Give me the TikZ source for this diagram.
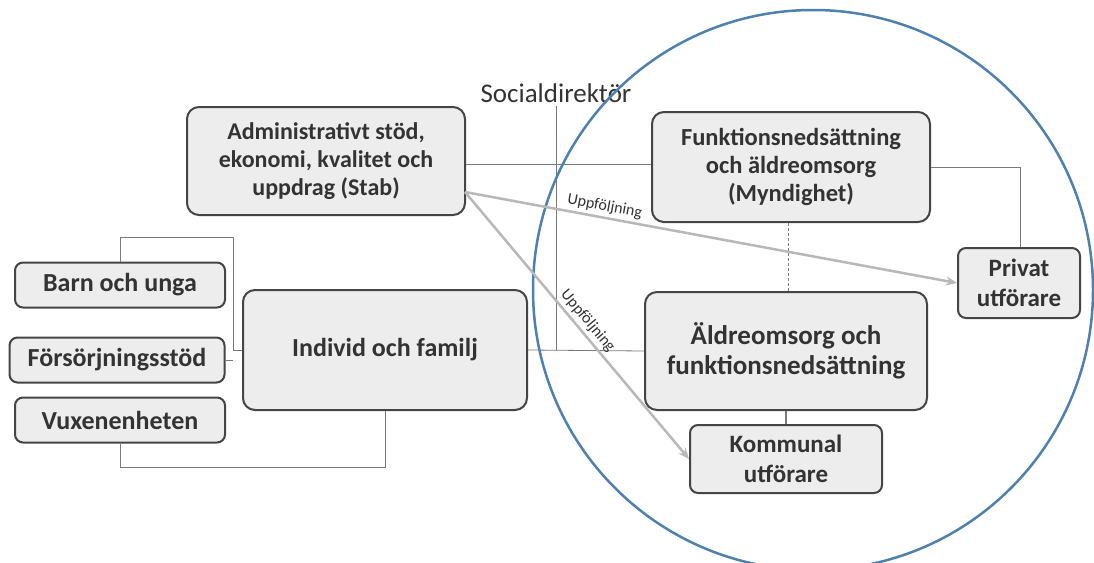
\documentclass[tikz,border=0pt]{standalone}
\usepackage{fontspec}
\setmainfont{Carlito}
\usetikzlibrary{arrows.meta,calc}
\definecolor{boxfill}{HTML}{EDEDED}
\definecolor{boxline}{HTML}{454545}
\definecolor{textcol}{HTML}{333333}
\definecolor{connline}{HTML}{7A7A7A}
\definecolor{arrowcol}{HTML}{B8B8B8}
\definecolor{circcol}{HTML}{4F81B0}
\newcommand{\fsz}[2]{\fontsize{#1}{#2}\selectfont\bfseries}
\begin{document}
\begin{tikzpicture}[x=1pt,y=-1pt,
  box/.style={draw=boxline, fill=boxfill, rounded corners=12pt, line width=2pt,
    align=center, text=textcol, inner sep=2pt},
  smallbox/.style={box, rounded corners=8pt},
  conn/.style={draw=connline, line width=0.8pt},
  follow/.style={draw=arrowcol, line width=2.5pt, -{Stealth[length=11pt,width=9pt]}},
  lbl/.style={font=\fontsize{16}{16}\selectfont, text=textcol, inner sep=1pt}]
\useasboundingbox (0,0) rectangle (1094,562);
\fill[white] (0,0) rectangle (1094,562);

% nodes
\node[font=\fontsize{27}{30}\selectfont, text=textcol] (sd) at (556,93) {Socialdirektör};
\node[box, minimum width=278pt, minimum height=108pt, font=\fsz{24}{28}] (admin) at (326,161)
  {Administrativt stöd,\\ekonomi, kvalitet och\\uppdrag (Stab)};
\node[box, minimum width=278pt, minimum height=110pt, font=\fsz{24.5}{28}] (funk) at (791,167)
  {Funktionsnedsättning\\och äldreomsorg\\(Myndighet)};
\node[smallbox, minimum width=122pt, minimum height=70pt, font=\fsz{25}{30}] (privat) at (1019,283)
  {Privat\\utförare};
\node[box, minimum width=282pt, minimum height=118pt, font=\fsz{27}{30}] (aldre) at (786,351)
  {Äldreomsorg och\\funktionsnedsättning};
\node[smallbox, minimum width=192pt, minimum height=68pt, font=\fsz{25}{30}] (komm) at (786,459)
  {Kommunal\\utförare};
\node[box, minimum width=284pt, minimum height=120pt, font=\fsz{26}{30}] (individ) at (385,350)
  {Individ och familj};
\node[smallbox, minimum width=210pt, minimum height=45pt, font=\fsz{26}{30}] (barn) at (120,285) {Barn och unga};
\node[smallbox, minimum width=215pt, minimum height=45pt, font=\fsz{26}{30}] (fors) at (117,360) {Försörjningsstöd};
\node[smallbox, minimum width=210pt, minimum height=45pt, font=\fsz{26}{30}] (vuxen) at (120,420) {Vuxenenheten};

% connectors
\coordinate (jl) at (233,350);
\draw[conn] (individ.west) -- (jl) -- (233,237) -| (barn.north);
\draw[conn] (fors.east) -- (fors.east -| jl);
\draw[conn] (vuxen.south) -- (120,467) -| (individ.south);
\draw[conn] (individ.east) -- (aldre.west);
\draw[conn] (sd.south) -- (sd.south |- individ.east);
\draw[conn] (admin.east |- 0,164) -- (funk.west |- 0,164);
\draw[conn] (funk.east) -- (1020,167) -- (privat.north -| 1020,0);
\draw[conn, dashed, dash pattern=on 3pt off 2pt] (funk.south -| 788,0) -- (aldre.north -| 788,0);
\draw[conn, line width=1.2pt] (aldre.south) -- (komm.north);

% circle
\draw[circcol, line width=2.5pt] (813,290) circle[radius=280pt];

% follow-up arrows
\coordinate (a1) at (465,192);
\draw[follow] (a1) -- node[lbl, pos=0.28, sloped, above=2pt] {Uppföljning} (privat.west);
\draw[follow] (a1) -- node[lbl, pos=0.51, sloped, above=2pt] {Uppföljning} (komm.west);
\end{tikzpicture}
\end{document}
